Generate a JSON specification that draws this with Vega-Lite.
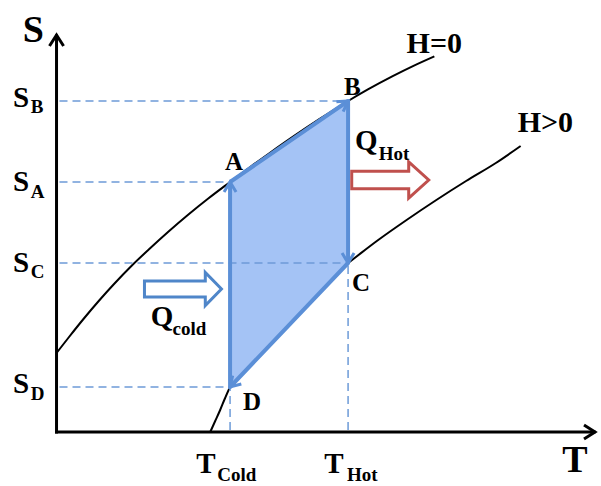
{
  "$schema": "https://vega.github.io/schema/vega-lite/v6.json",
  "width": 601,
  "height": 486,
  "autosize": {"type": "fit", "contains": "padding"},
  "padding": 0,
  "background": "white",
  "config": {"view": {"stroke": null}},
  "datasets": {
    "curves": [
      {"curve": "H=0", "T": 0.0, "S": 7.9},
      {"curve": "H=0", "T": 1.3, "S": 9.55},
      {"curve": "H=0", "T": 2.8, "S": 11.4},
      {"curve": "H=0", "T": 4.3, "S": 13.15},
      {"curve": "H=0", "T": 5.8, "S": 14.8},
      {"curve": "H=0", "T": 7.6, "S": 16.65},
      {"curve": "H=0", "T": 9.3, "S": 18.25},
      {"curve": "H=0", "T": 11.3, "S": 20.05},
      {"curve": "H=0", "T": 13.3, "S": 21.75},
      {"curve": "H=0", "T": 15.3, "S": 23.35},
      {"curve": "H=0", "T": 17.5, "S": 25.0},
      {"curve": "H=0", "T": 19.5, "S": 26.48},
      {"curve": "H=0", "T": 21.5, "S": 27.9},
      {"curve": "H=0", "T": 24.0, "S": 29.63},
      {"curve": "H=0", "T": 26.5, "S": 31.28},
      {"curve": "H=0", "T": 29.4, "S": 33.1},
      {"curve": "H=0", "T": 31.4, "S": 34.26},
      {"curve": "H=0", "T": 33.9, "S": 35.59},
      {"curve": "H=0", "T": 36.1, "S": 36.67},
      {"curve": "H=0", "T": 38.1, "S": 37.57},
      {"curve": "H>0", "T": 15.5, "S": 0.0},
      {"curve": "H>0", "T": 16.0, "S": 1.1},
      {"curve": "H>0", "T": 16.5, "S": 2.2},
      {"curve": "H>0", "T": 17.0, "S": 3.4},
      {"curve": "H>0", "T": 17.5, "S": 4.5},
      {"curve": "H>0", "T": 18.8, "S": 6.4},
      {"curve": "H>0", "T": 20.3, "S": 8.35},
      {"curve": "H>0", "T": 22.3, "S": 10.65},
      {"curve": "H>0", "T": 24.3, "S": 12.7},
      {"curve": "H>0", "T": 26.8, "S": 15.0},
      {"curve": "H>0", "T": 29.4, "S": 16.9},
      {"curve": "H>0", "T": 32.3, "S": 19.1},
      {"curve": "H>0", "T": 35.3, "S": 21.2},
      {"curve": "H>0", "T": 38.3, "S": 23.2},
      {"curve": "H>0", "T": 41.3, "S": 25.1},
      {"curve": "H>0", "T": 44.3, "S": 26.9},
      {"curve": "H>0", "T": 46.8, "S": 28.6}
    ],
    "cycle": [
      {"pt": "A", "T": 17.5, "S": 25.0, "step": 1},
      {"pt": "B", "T": 29.4, "S": 33.1, "step": 2},
      {"pt": "C", "T": 29.4, "S": 16.9, "step": 3},
      {"pt": "D", "T": 17.5, "S": 4.5, "step": 4},
      {"pt": "A", "T": 17.5, "S": 25.0, "step": 5}
    ],
    "band": [
      {"T": 17.5, "S": 25.0, "S2": 4.5},
      {"T": 29.4, "S": 33.1, "S2": 16.9}
    ],
    "guides": [
      {"T": 0.3, "S": 33.1, "T2": 29.4, "S2": 33.1},
      {"T": 0.3, "S": 25.0, "T2": 17.5, "S2": 25.0},
      {"T": 0.3, "S": 16.9, "T2": 29.4, "S2": 16.9},
      {"T": 0.3, "S": 4.5, "T2": 17.5, "S2": 4.5},
      {"T": 17.5, "S": 0.2, "T2": 17.5, "S2": 4.5},
      {"T": 29.4, "S": 0.2, "T2": 29.4, "S2": 16.9}
    ],
    "axes": [
      {"T": 0, "S": 0, "T2": 0, "S2": 39.6},
      {"T": 0, "S": 0, "T2": 54.2, "S2": 0}
    ],
    "tips": [
      {"at": "A", "T": 17.5, "S": 25.0},
      {"at": "B", "T": 29.4, "S": 33.1},
      {"at": "C", "T": 29.4, "S": 16.9},
      {"at": "D", "T": 17.5, "S": 4.5},
      {"at": "S-axis", "T": 0, "S": 39.7},
      {"at": "T-axis", "T": 54.3, "S": 0}
    ],
    "heat": [
      {"flow": "Q_cold", "T": 12.75, "S": 14.3},
      {"flow": "Q_hot", "T": 33.65, "S": 25.2}
    ],
    "labels": [
      {"role": "axis", "txt": "S", "T": -3.4, "S": 39.0},
      {"role": "axis", "txt": "T", "T": 51.0, "S": -4.0},
      {"role": "symbol", "txt": "S", "T": -4.4, "S": 32.5},
      {"role": "symbol", "txt": "S", "T": -4.4, "S": 24.1},
      {"role": "symbol", "txt": "S", "T": -4.4, "S": 16.0},
      {"role": "symbol", "txt": "S", "T": -4.4, "S": 3.9},
      {"role": "symbol", "txt": "T", "T": 14.1, "S": -4.1},
      {"role": "symbol", "txt": "T", "T": 27.0, "S": -4.1},
      {"role": "symbol", "txt": "Q", "T": 30.1, "S": 28.2},
      {"role": "symbol", "txt": "Q", "T": 9.5, "S": 10.6},
      {"role": "sub", "txt": "B", "T": -2.6, "S": 31.9},
      {"role": "sub", "txt": "A", "T": -2.6, "S": 23.4},
      {"role": "sub", "txt": "C", "T": -2.6, "S": 15.4},
      {"role": "sub", "txt": "D", "T": -2.6, "S": 3.2},
      {"role": "sub", "txt": "Cold", "T": 16.2, "S": -4.9},
      {"role": "sub", "txt": "Hot", "T": 29.3, "S": -4.9},
      {"role": "sub", "txt": "Hot", "T": 32.5, "S": 27.2},
      {"role": "sub", "txt": "cold", "T": 11.7, "S": 9.7},
      {"role": "point", "txt": "A", "T": 17.0, "S": 26.2},
      {"role": "point", "txt": "B", "T": 29.0, "S": 33.7},
      {"role": "point", "txt": "C", "T": 29.8, "S": 14.1},
      {"role": "point", "txt": "D", "T": 18.8, "S": 2.2},
      {"role": "field", "txt": "H=0", "T": 35.3, "S": 37.9},
      {"role": "field", "txt": "H>0", "T": 46.5, "S": 30.0}
    ]
  },
  "encoding": {
    "x": {"field": "T", "type": "quantitative", "scale": {"domain": [-5.7, 54.4], "nice": false, "zero": false}, "axis": null},
    "y": {"field": "S", "type": "quantitative", "scale": {"domain": [-5.4, 43.2], "nice": false, "zero": false}, "axis": null}
  },
  "layer": [
    {
      "data": {"name": "curves"},
      "mark": {"type": "line", "stroke": "black", "strokeWidth": 2, "interpolate": "monotone"},
      "encoding": {"detail": {"field": "curve"}}
    },
    {
      "data": {"name": "band"},
      "mark": {"type": "area", "fill": "#a4c3f5", "opacity": 1},
      "encoding": {"y2": {"field": "S2"}}
    },
    {
      "data": {"name": "guides"},
      "mark": {"type": "rule", "stroke": "#6d9bd8", "strokeWidth": 1.5, "strokeDash": [8, 5]},
      "encoding": {"x2": {"field": "T2"}, "y2": {"field": "S2"}}
    },
    {
      "data": {"name": "cycle"},
      "mark": {"type": "line", "stroke": "#5b8fd7", "strokeWidth": 4, "strokeJoin": "round"},
      "encoding": {"order": {"field": "step", "type": "quantitative"}}
    },
    {
      "data": {"name": "tips"},
      "transform": [{"filter": "datum.at === 'A'"}],
      "mark": {"type": "point", "shape": "M-1,-0.6L0,0L-1,0.6", "filled": false, "stroke": "#5b8fd7", "strokeWidth": 3, "size": 400, "angle": 270, "opacity": 1}
    },
    {
      "data": {"name": "tips"},
      "transform": [{"filter": "datum.at === 'B'"}],
      "mark": {"type": "point", "shape": "M-1,-0.6L0,0L-1,0.6", "filled": false, "stroke": "#5b8fd7", "strokeWidth": 3, "size": 400, "angle": 325.8, "opacity": 1}
    },
    {
      "data": {"name": "tips"},
      "transform": [{"filter": "datum.at === 'C'"}],
      "mark": {"type": "point", "shape": "M-1,-0.6L0,0L-1,0.6", "filled": false, "stroke": "#5b8fd7", "strokeWidth": 3, "size": 400, "angle": 90, "opacity": 1}
    },
    {
      "data": {"name": "tips"},
      "transform": [{"filter": "datum.at === 'D'"}],
      "mark": {"type": "point", "shape": "M-1,-0.6L0,0L-1,0.6", "filled": false, "stroke": "#5b8fd7", "strokeWidth": 3, "size": 400, "angle": 133.8, "opacity": 1}
    },
    {
      "data": {"name": "axes"},
      "mark": {"type": "rule", "stroke": "black", "strokeWidth": 3, "strokeCap": "square"},
      "encoding": {"x2": {"field": "T2"}, "y2": {"field": "S2"}}
    },
    {
      "data": {"name": "tips"},
      "transform": [{"filter": "datum.at === 'S-axis'"}],
      "mark": {"type": "point", "shape": "M-1,-0.64L0,0L-1,0.64", "filled": false, "stroke": "black", "strokeWidth": 3, "size": 484, "angle": 270, "opacity": 1}
    },
    {
      "data": {"name": "tips"},
      "transform": [{"filter": "datum.at === 'T-axis'"}],
      "mark": {"type": "point", "shape": "M-1,-0.64L0,0L-1,0.64", "filled": false, "stroke": "black", "strokeWidth": 3, "size": 484, "angle": 0, "opacity": 1}
    },
    {
      "data": {"name": "heat"},
      "transform": [{"filter": "datum.flow === 'Q_cold'"}],
      "mark": {"type": "point", "shape": "M-1,-0.21L0.58,-0.21L0.58,-0.43L1,0L0.58,0.43L0.58,0.21L-1,0.21Z", "filled": true, "fill": "white", "stroke": "#4f86c9", "strokeWidth": 3, "size": 5929, "opacity": 1}
    },
    {
      "data": {"name": "heat"},
      "transform": [{"filter": "datum.flow === 'Q_hot'"}],
      "mark": {"type": "point", "shape": "M-1,-0.23L0.48,-0.23L0.48,-0.47L1,0L0.48,0.47L0.48,0.23L-1,0.23Z", "filled": true, "fill": "white", "stroke": "#c0504d", "strokeWidth": 3, "size": 5929, "opacity": 1}
    },
    {
      "data": {"name": "labels"},
      "transform": [{"filter": "datum.role === 'axis'"}],
      "mark": {"type": "text", "font": "Liberation Serif", "fontWeight": "bold", "fontSize": 38, "align": "left", "baseline": "alphabetic", "color": "black"},
      "encoding": {"text": {"field": "txt"}}
    },
    {
      "data": {"name": "labels"},
      "transform": [{"filter": "datum.role === 'symbol'"}],
      "mark": {"type": "text", "font": "Liberation Serif", "fontWeight": "bold", "fontSize": 29, "align": "left", "baseline": "alphabetic", "color": "black"},
      "encoding": {"text": {"field": "txt"}}
    },
    {
      "data": {"name": "labels"},
      "transform": [{"filter": "datum.role === 'sub'"}],
      "mark": {"type": "text", "font": "Liberation Serif", "fontWeight": "bold", "fontSize": 19, "align": "left", "baseline": "alphabetic", "color": "black"},
      "encoding": {"text": {"field": "txt"}}
    },
    {
      "data": {"name": "labels"},
      "transform": [{"filter": "datum.role === 'point'"}],
      "mark": {"type": "text", "font": "Liberation Serif", "fontWeight": "bold", "fontSize": 25, "align": "left", "baseline": "alphabetic", "color": "black"},
      "encoding": {"text": {"field": "txt"}}
    },
    {
      "data": {"name": "labels"},
      "transform": [{"filter": "datum.role === 'field'"}],
      "mark": {"type": "text", "font": "Liberation Serif", "fontWeight": "bold", "fontSize": 30, "align": "left", "baseline": "alphabetic", "color": "black"},
      "encoding": {"text": {"field": "txt"}}
    }
  ]
}
